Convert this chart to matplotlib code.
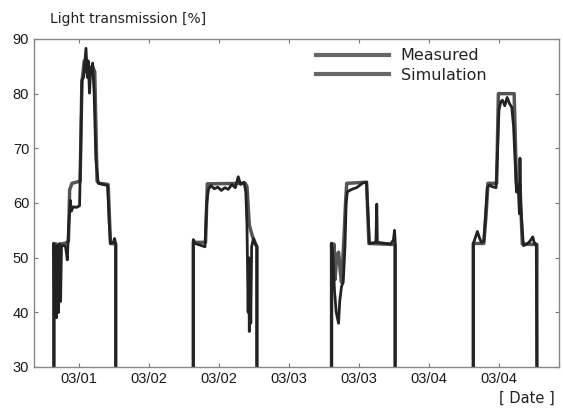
import numpy as np
import matplotlib
matplotlib.use("Agg")
import matplotlib.pyplot as plt
from matplotlib.lines import Line2D

# time in hours since 03/01 00:00
tick_hours = [12, 24, 36, 48, 60, 72, 84]
tick_labels = ["03/01", "03/02", "03/02", "03/03", "03/03", "03/04", "03/04"]
y_ticks = [30, 40, 50, 60, 70, 80, 90]

meas_t = [
    7.7, 7.7, 7.85, 8.0, 8.15, 8.35, 8.5, 8.7, 8.85, 9.0, 9.3, 9.7, 10.0, 10.2, 10.5, 10.7, 11.0, 11.6, 12.1,
    12.3, 12.5, 12.8, 13.2, 13.45, 13.6, 13.8, 14.0, 14.35, 14.6, 14.9, 15.3, 16.9, 17.2, 17.4, 17.9, 18.1, 18.3, 18.3,
    np.nan,
    31.6, 31.6, 31.9, 33.6, 33.9, 34.2, 34.6, 35.2, 35.8, 36.4, 37.0, 37.6, 38.2, 38.8, 39.3, 39.7, 40.3, 40.6,
    40.8, 41.0, 41.1, 41.2, 41.35, 41.45, 41.6, 41.9, 42.2, 42.5, 42.5,
    np.nan,
    55.3, 55.3, 55.5, 55.8, 56.1, 56.5, 56.7, 57.0, 57.3, 57.6, 57.8, 58.0, 58.4, 59.0, 59.6, 60.2, 60.7, 61.3,
    61.6, 61.8, 62.9, 63.05, 63.15, 65.4, 65.9, 66.1, 66.2, 66.2,
    np.nan,
    79.6, 79.6, 79.9, 80.3, 80.7, 81.0, 81.4, 81.7, 82.0, 82.4, 82.8, 83.5, 83.7, 84.0, 84.3, 84.6, 85.0, 85.4,
    85.8, 86.2, 86.5, 86.8, 87.0, 87.3, 87.5, 87.6, 87.7, 88.0, 88.2, 88.8, 89.3, 89.8, 90.1, 90.4, 90.5,
]
meas_v = [
    30, 52.6, 39.5, 52, 39, 52.3, 40, 52.5, 42, 52, 52.3, 52.0, 49.6, 55, 60.5, 58.5, 59.3, 59.2, 59.5,
    70, 82.5, 83, 88.3, 83, 86, 80.1, 84, 85.6, 80, 68, 63.6, 63.2, 56, 52.6, 52.8, 53.5, 52.5, 30,
    np.nan,
    30, 53.3, 52.6, 52.0, 60, 62.5, 63.2, 62.6, 62.9, 62.3, 62.8, 62.5, 63.4, 62.8, 64.8, 63.4, 63.8, 62,
    56, 40, 50, 36.5, 48, 38, 52, 53.5, 52.5, 52, 30,
    np.nan,
    30, 52.6, 51, 44, 40, 38, 42, 44.7, 45.5, 52, 60, 62, 62.3, 62.6, 62.8, 63.3, 63.7, 63.8,
    57, 52.6, 52.8, 59.8, 52.8, 52.5, 53.2, 55.0, 53, 30,
    np.nan,
    30, 52.6, 53.5, 54.8, 53.5, 52.8, 53.0, 58, 62.8, 63.3, 63.0, 62.8, 68, 77, 78.5, 78.8, 77.8, 79.3,
    78.2, 77.5, 74, 67, 62, 63, 58, 68.2, 60, 55, 52.2, 52.5, 53.0, 53.8, 52.5, 52.5, 30,
]

sim_t = [
    7.7, 7.7, 7.9, 8.1, 8.3, 8.6, 9.6, 10.2, 10.4, 10.8, 12.2, 12.5, 12.9, 13.3, 13.7, 14.3, 14.7, 15.1, 15.5,
    17.0, 17.4, 18.3, 18.3,
    np.nan,
    31.6, 31.6, 33.7, 34.0, 40.5, 40.8, 41.2, 41.7, 42.3, 42.5, 42.5,
    np.nan,
    55.3, 55.3, 55.5, 55.7, 55.9, 56.2, 56.5, 56.8, 57.0, 57.4, 57.7, 57.9, 61.3, 61.7, 66.2, 66.2,
    np.nan,
    79.6, 79.6, 81.4, 81.8, 82.1, 83.6, 83.9, 86.6, 87.0, 87.6, 88.0, 90.5, 90.5,
]
sim_v = [
    30, 52.6, 40, 52.5, 40, 52.5, 52.6, 53, 62.4, 63.6, 64, 82, 86, 84, 84.5, 85, 84, 64, 63.6,
    63.4, 52.6, 52.5, 30,
    np.nan,
    30, 52.8, 52.8, 63.5, 63.6, 63, 56, 54, 52.5, 52, 30,
    np.nan,
    30, 52.6, 47, 52.5, 46, 50.5, 51, 47.5, 45.5, 53, 60, 63.6, 63.8, 52.6, 52.4, 30,
    np.nan,
    30, 52.6, 52.6, 58, 63.6, 63.6, 80, 80, 63.6, 63.4, 52.5, 52.4, 30,
]

fig = plt.figure(figsize=(5.63, 4.12), dpi=100)
ax = fig.add_axes([34 / 563, 45 / 412, 525 / 563, 328 / 412])

ax.plot(sim_t, sim_v, color="#555555", lw=2.5)
ax.plot(meas_t, meas_v, color="#222222", lw=2.0)

ax.set_xlim(4.29, 94.29)
ax.set_ylim(30, 90)
ax.set_xticks(tick_hours)
ax.set_xticklabels(tick_labels, fontfamily="Liberation Sans", fontsize=10.5, color="#1a1a1a")
ax.set_yticks(y_ticks)
ax.set_yticklabels([str(v) for v in y_ticks], fontfamily="Liberation Sans", fontsize=10.5, color="#1a1a1a")
ax.tick_params(direction="in", length=3, width=0.8, color="#777777", top=True, right=True, pad=3.5)
for s in ax.spines.values():
    s.set_color("#888888")
    s.set_linewidth(1.0)

handles = [Line2D([], [], color="#666666", lw=3.0), Line2D([], [], color="#666666", lw=3.0)]
ax.legend(handles, ["Measured", "Simulation"], loc="upper left", bbox_to_anchor=(0.537, 0.972),
          frameon=False, fontsize=11.5, handlelength=4.6, handletextpad=0.7, labelspacing=0.28,
          borderpad=0, borderaxespad=0, labelcolor="#222222")

fig.text(50 / 563, 1 - 19 / 412, "Light transmission [%]", fontsize=10, ha="left", va="center", color="#222222")
fig.text(555 / 563, 1 - 398 / 412, "[ Date ]", fontsize=10.5, ha="right", va="center", color="#222222")

fig.savefig("out.png", dpi=100)
